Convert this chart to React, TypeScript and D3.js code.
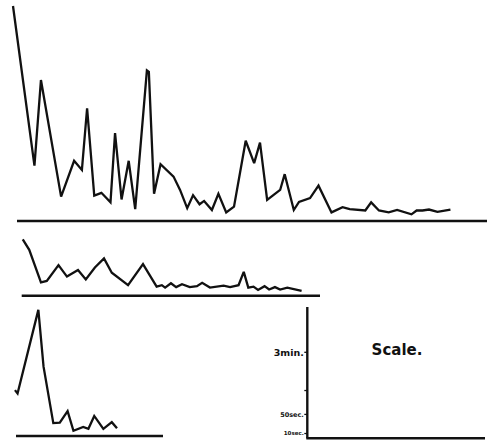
import React from "react";
import * as d3 from "d3";

// Trial positions (trial units) and times (seconds) for each curve
const topTrials = [0, 3.3, 4.3, 7.4, 9.4, 10.6, 11.4, 12.5, 13.6, 15.0, 15.7, 16.7, 17.8, 18.8, 20.6, 20.9, 21.7, 22.7, 24.7, 25.7, 26.8, 27.7, 28.7, 29.4, 30.6, 31.6, 32.8, 34.0, 35.8, 37.1, 38.0, 39.1, 41.1, 41.8, 43.2, 44.0, 45.7, 47.0, 49.0, 50.7, 51.8, 54.2, 55.1, 56.3, 57.8, 59.1, 61.3, 62.1, 63.0, 64.0, 65.3, 67.3];
const topTimes = [450, 116, 295, 51, 126, 107, 236, 53, 59, 39, 184, 45, 126, 25, 315, 312, 57, 119, 93, 65, 27, 54, 35, 42, 23, 57, 18, 30, 168, 121, 164, 44, 65, 98, 23, 40, 48, 74, 18, 29, 25, 22, 39, 22, 18, 23, 14, 22, 22, 24, 19, 24];

const midTrials = [1.5, 2.5, 4.3, 5.2, 7.0, 8.3, 10.0, 11.2, 12.6, 14.0, 15.2, 17.7, 20.0, 22.1, 22.9, 23.4, 24.3, 25.1, 26.0, 27.2, 28.3, 29.1, 30.3, 32.4, 33.4, 34.7, 35.5, 36.2, 37.0, 37.7, 38.7, 39.4, 40.3, 41.1, 42.2, 44.4];
const midTimes = [118, 96, 28, 31, 64, 40, 54, 34, 59, 78, 48, 22, 66, 19, 22, 17, 26, 18, 24, 18, 20, 27, 17, 21, 18, 22, 50, 17, 19, 12, 20, 13, 18, 13, 17, 10];

const botTrials = [0.3, 0.7, 3.9, 4.7, 6.2, 7.2, 8.4, 9.3, 10.8, 11.6, 12.5, 13.9, 15.2, 16.0];
const botTimes = [96, 89, 264, 145, 27, 28, 52, 11, 19, 15, 42, 15, 29, 16];

const scaleTicks = [10, 50, 100, 180];
const scaleLabels = ["10sec.", "50sec.", "", "3min."];
const scaleTickSizes = [5.5, 6.5, 0, 9.5];

const W = 500;
const H = 445;
const PX_PER_SEC = 86 / 180;

const x = d3.scaleLinear().domain([0, 72]).range([13, 481]);

function yFor(base: number) {
  return d3.scaleLinear().domain([0, 1]).range([base, base - PX_PER_SEC]);
}

const panels = [
  { trials: topTrials, times: topTimes, base: 221, x0: 17, x1: 487 },
  { trials: midTrials, times: midTimes, base: 295.7, x0: 21.7, x1: 320 },
  { trials: botTrials, times: botTimes, base: 436, x0: 16, x1: 163 },
];

export default function App() {
  const scaleBase = 438.3;
  const ys = d3.scaleLinear().domain([0, 180]).range([scaleBase, scaleBase - 86]);
  const axisX = 307.3;
  return (
    <svg
      width={W}
      height={H}
      style={{ position: "absolute", left: 0, top: 0, background: "#fff" }}
    >
      <rect width={W} height={H} fill="#fff" />
      {panels.map((p, i) => {
        const y = yFor(p.base);
        const line = d3
          .line<number>()
          .x((_, j) => x(p.trials[j]))
          .y((d) => y(d))
          .curve(d3.curveLinear);
        return (
          <g key={i}>
            <line
              x1={p.x0}
              x2={p.x1}
              y1={p.base}
              y2={p.base}
              stroke="#111"
              strokeWidth={2.6}
            />
            <path
              d={line(p.times) || ""}
              fill="none"
              stroke="#111"
              strokeWidth={2.3}
              strokeLinejoin="miter"
              strokeMiterlimit={3}
            />
          </g>
        );
      })}
      {/* Scale box */}
      <g>
        <line x1={axisX} x2={axisX} y1={307} y2={scaleBase} stroke="#111" strokeWidth={2.4} />
        <line x1={axisX - 1} x2={485} y1={scaleBase} y2={scaleBase} stroke="#111" strokeWidth={2.4} />
        {scaleTicks.map((t, i) => (
          <g key={t}>
            <line
              x1={axisX - 3}
              x2={axisX}
              y1={ys(t)}
              y2={ys(t)}
              stroke="#111"
              strokeWidth={1.3}
            />
            {scaleLabels[i] && (
              <text
                x={axisX - 3.5}
                y={ys(t) + scaleTickSizes[i] * 0.35}
                textAnchor="end"
                fontFamily="DejaVu Sans, sans-serif"
                fontWeight={600}
                fontSize={scaleTickSizes[i]}
                fill="#111"
              >
                {scaleLabels[i]}
              </text>
            )}
          </g>
        ))}
        <text
          x={397}
          y={355}
          textAnchor="middle"
          fontFamily="DejaVu Sans, sans-serif"
          fontWeight={600}
          fontSize={15}
          fill="#111"
        >
          Scale.
        </text>
      </g>
    </svg>
  );
}
